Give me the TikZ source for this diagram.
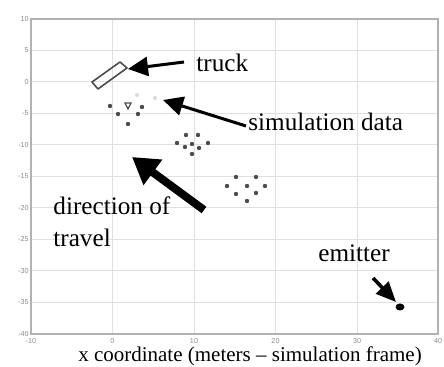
\documentclass[tikz,border=0pt]{standalone}
\usepackage{fontspec}
\setmainfont{Liberation Serif}
\setsansfont{Liberation Sans}
\usetikzlibrary{arrows.meta,shapes.geometric}
\begin{document}
\begin{tikzpicture}[x=0.5pt,y=-0.5pt,
  gridline/.style={draw=black!12, line width=0.5pt},
  frameline/.style={draw=black!30, line width=0.6pt},
  ticklabel/.style={font=\sffamily\fontsize{3.6}{4}\selectfont, text=black!45, inner sep=0pt},
  callout/.style={font=\fontsize{12.6}{16}\selectfont, inner sep=0pt, anchor=base west, align=left},
  pt/.style={circle, fill=black!70, inner sep=0pt, minimum size=2.2pt},
  faintpt/.style={circle, fill=black!15, inner sep=0pt, minimum size=2pt},
  thinarrow/.style={line width=1.5pt, -{Triangle[length=10pt,width=9.5pt]}},
  fatarrow/.style={line width=4pt, -{Triangle[length=13pt,width=15pt]}}]
\useasboundingbox (0,0) rectangle (444,367);

% grid lines: x = 0,10,20,30 ; y = 5,0,...,-35
\foreach \gx in {112.5,194,275.5,357} \draw[gridline] (\gx,19) -- (\gx,334);
\foreach \gy in {50.5,82,113.5,145,176.5,208,239.5,271,302.5} \draw[gridline] (31,\gy) -- (438,\gy);
\draw[frameline] (31,19) rectangle (438,334);

% tick labels
\foreach \v/\gy in {10/19,5/50.5,0/82,-5/113.5,-10/145,-15/176.5,-20/208,-25/239.5,-30/271,-35/302.5,-40/334}
  \node[ticklabel, anchor=east] (yt\v) at (29,\gy) {\v};
\foreach \v/\gx in {-10/31,0/112.5,10/194,20/275.5,30/357,40/438}
  \node[ticklabel, anchor=north] (xt\v) at (\gx,338) {\v};

% truck outline
\draw[black!70, line width=0.8pt, line join=round]
  (92,82) -- (98,89) -- (127,68) -- (120,62) -- cycle;
\coordinate (truckpt) at (128,69);

% simulated positions
\foreach \px/\py [count=\i] in {110/106,118/114,142/107,138/114,128/124}
  \node[pt] (a\i) at (\px,\py) {};
\draw[black!70, line width=0.6pt] (125,103) -- (131,103) -- (128,109) -- cycle;
\node[faintpt] (f1) at (137,95) {};
\node[faintpt] (f2) at (155,98) {};
\coordinate (simpt) at (163,100);
\foreach \px/\py [count=\i] in {186/135,198/135,177/143,192/144,185/147,199/148,208/143,192/154}
  \node[pt] (b\i) at (\px,\py) {};
\foreach \px/\py [count=\i] in {236/177,256/177,227/186,247/186,265/186,236/194,256/193,247/201}
  \node[pt] (c\i) at (\px,\py) {};

% emitter
\node[ellipse, fill=black, inner sep=0pt, minimum width=4.5pt, minimum height=3.5pt] (emitter) at (400,307) {};

% labels
\node[callout] (truck) at (196,72) {truck};
\node[callout] (sim) at (248,131) {simulation data};
\node[callout] (dir) at (53,247) {direction of\\travel};
\node[callout] (emit) at (318,262) {emitter};
\node[font=\fontsize{10.5}{12}\selectfont, inner sep=0pt, anchor=base] (xlabel) at (250,362)
  {x coordinate (meters -- simulation frame)};

% arrows
\coordinate (truckTail) at (184,62);
\coordinate (simTail) at (246,126);
\coordinate (dirTail) at (204,210);
\coordinate (dirTip) at (132,157);
\coordinate (emitTail) at (373,278);
\coordinate (emitTip) at (396,302);
\draw[thinarrow] (truckTail) -- (truckpt);
\draw[thinarrow] (simTail) -- (simpt);
\draw[fatarrow] (dirTail) -- (dirTip);
\draw[line width=1.8pt, -{Triangle[length=10pt,width=8.5pt]}] (emitTail) -- (emitTip);
\end{tikzpicture}
\end{document}
